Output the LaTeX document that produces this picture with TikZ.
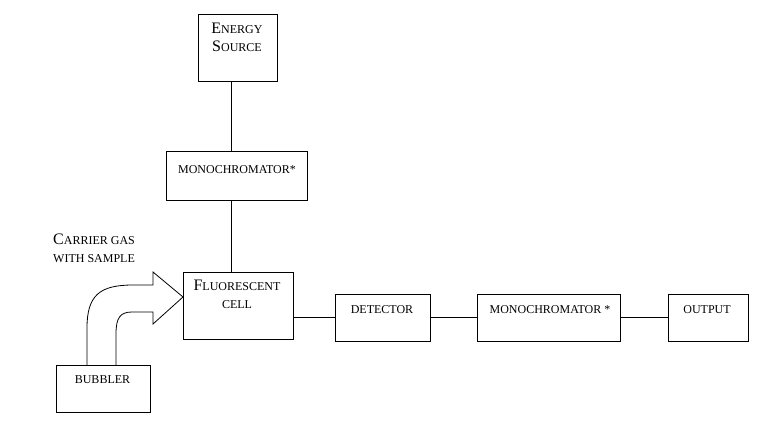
\documentclass[tikz,border=0pt]{standalone}
\usepackage{fontspec}
\setmainfont{Liberation Serif}
\pgfdeclarelayer{edgelayer}
\pgfdeclarelayer{nodelayer}
\pgfsetlayers{edgelayer,nodelayer,main}
\newcommand{\initcap}[1]{{\fontsize{16}{18}\selectfont #1}}
\tikzstyle{none}=[inner sep=0mm]
\tikzstyle{block}=[draw=black,line width=0.8pt,inner sep=0mm,shape=rectangle]
\tikzstyle{lbl}=[none,font=\fontsize{12}{18}\selectfont,align=center]
\tikzstyle{wire}=[line width=0.8pt]

\begin{document}
\begin{tikzpicture}[x=1pt,y=-1pt]
	\useasboundingbox (0, 0) rectangle (777, 424);
	\begin{pgfonlayer}{nodelayer}
		\node [style=block, minimum width=79, minimum height=67] (src) at (237.5, 47.5) {};
		\node [style=block, minimum width=141, minimum height=49] (mono1) at (236.5, 175.5) {};
		\node [style=block, minimum width=110, minimum height=67] (cell) at (238, 305.5) {};
		\node [style=block, minimum width=95, minimum height=47] (det) at (382.5, 317.5) {};
		\node [style=block, minimum width=143, minimum height=47] (mono2) at (548.5, 317.5) {};
		\node [style=block, minimum width=80, minimum height=47] (out) at (708, 317.5) {};
		\node [style=block, minimum width=94, minimum height=47] (bub) at (103, 388.5) {};
		\node [style=lbl, anchor=north] (srctxt) at (237, 22.4) {\initcap{E}NERGY\\\initcap{S}OURCE};
		\node [style=lbl, anchor=base] (mono1txt) at (237, 173) {MONOCHROMATOR*};
		\node [style=lbl, anchor=north] (celltxt) at (237, 279.4) {\initcap{F}LUORESCENT\\CELL};
		\node [style=lbl, anchor=base] (dettxt) at (382, 313) {DETECTOR};
		\node [style=lbl, anchor=base] (mono2txt) at (550, 313) {MONOCHROMATOR *};
		\node [style=lbl, anchor=base] (outtxt) at (707, 313) {OUTPUT};
		\node [style=lbl, anchor=base] (bubtxt) at (102.5, 383) {BUBBLER};
		\node [style=lbl, anchor=north west, align=left] (gastxt) at (53, 233.4) {\initcap{C}ARRIER GAS\\WITH SAMPLE};
		\coordinate (spine) at (231, 0);
	\end{pgfonlayer}
	\begin{pgfonlayer}{edgelayer}
		\draw [style=wire] (src.south -| spine) to (mono1.north -| spine);
		\draw [style=wire] (mono1.south -| spine) to (cell.north -| spine);
		\draw [style=wire] (cell.east |- det.west) to (det.west);
		\draw [style=wire] (det.east) to (mono2.west);
		\draw [style=wire] (mono2.east) to (out.west);
		% bent feed arrow from the bubbler into the cell
		\draw [style=wire, line join=miter] (87, 365) -- (87, 328)
			.. controls (87, 295) and (100, 285) .. (133, 285)
			-- (153, 285) -- (153, 272) -- (183, 297) -- (153, 324) -- (153, 312)
			-- (132, 312) .. controls (120, 312) and (116, 318) .. (116, 334)
			-- (116, 365);
	\end{pgfonlayer}
\end{tikzpicture}
\end{document}
